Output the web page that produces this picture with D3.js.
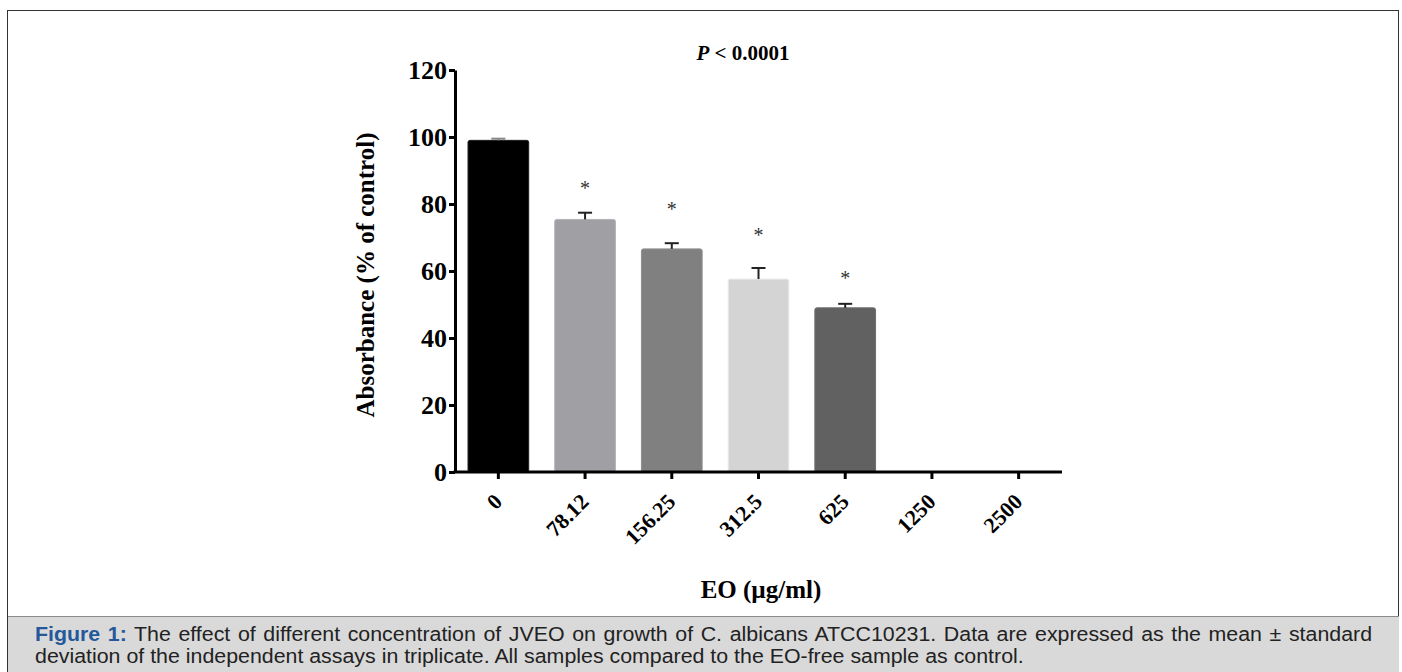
<!DOCTYPE html>
<html lang="en">
<head>
    <meta charset="UTF-8">
    <script src="https://d3js.org/d3.v7.min.js"></script>
    <title>Figure 1</title>
    <style>
        body { margin: 0; background: #fff; }
        #frame {
            position: absolute;
            left: 7px; top: 10px;
            width: 1392px; height: 680px;
            border: 1px solid #333;
            box-sizing: border-box;
        }
        #caption {
            position: absolute;
            left: 8px; top: 616px;
            width: 1391px; height: 60px;
            background: #d9d9d9;
            border-top: 1px solid #8a8a8a;
            box-sizing: border-box;
            padding: 6px 0 0 27px;
            font-family: "Liberation Sans", Arial, sans-serif;
            font-size: 19.5px;
            line-height: 22px;
            color: #222;
        }
        #caption .inner {
            width: 1221px;
            transform: scaleX(1.095);
            transform-origin: left top;
        }
        #caption .l1 { text-align: justify; text-align-last: justify; white-space: nowrap; }
        #caption b { color: #24589a; }
        svg { position: absolute; left: 0; top: 0; }
    </style>
</head>
<body>
    <div id="frame"></div>
    <svg id="chart" width="1402" height="616"></svg>
    <div id="caption">
        <div class="inner">
            <div class="l1"><b>Figure 1:</b> The effect of different concentration of JVEO on growth of C. albicans ATCC10231. Data are expressed as the mean ± standard</div>
            <div>deviation of the independent assays in triplicate. All samples compared to the EO-free sample as control.</div>
        </div>
    </div>

    <script>
        // concentrations (µg/ml)
        const categories = ["0", "78.12", "156.25", "312.5", "625", "1250", "2500"];
        // mean absorbance, % of control
        const means = [99.0, 75.4, 66.6, 57.6, 49.0, 0, 0];
        // standard deviation
        const sds = [0.5, 2.0, 1.7, 3.3, 1.2, 0, 0];
        // where the significance stars sit
        const starValues = [null, 85.8, 79.4, 71.6, 58.8, null, null];
        const barColors = ["#000000", "#a0a0a4", "#808080", "#d4d4d4", "#616161", "#616161", "#616161"];
        const yTicks = [0, 20, 40, 60, 80, 100, 120];

        const svg = d3.select("#chart");
        const x0 = 455, x1 = 1062, yTop = 70, yBottom = 472;

        const x = d3.scaleBand()
            .domain(categories)
            .range([x0, x1])
            .paddingInner(0.3)
            .paddingOuter(0.15);

        const y = d3.scaleLinear()
            .domain([0, 120])
            .range([yBottom, yTop]);

        const serif = "'Liberation Serif', 'Times New Roman', serif";

        // bars
        svg.selectAll("rect.bar")
            .data(categories)
            .enter()
            .append("rect")
            .attr("class", "bar")
            .attr("x", d => x(d))
            .attr("y", (d, i) => y(means[i]))
            .attr("width", x.bandwidth())
            .attr("height", (d, i) => yBottom - y(means[i]))
            .attr("rx", 2)
            .attr("fill", (d, i) => barColors[i])
            .attr("stroke", (d, i) => i === 0 ? "#222" : d3.color(barColors[i]).brighter(0.3))
            .attr("stroke-width", 1)
            .style("display", (d, i) => means[i] > 0 ? null : "none");

        // error bars (upper half only)
        const err = svg.selectAll("g.err")
            .data(categories.filter((d, i) => means[i] > 0))
            .enter()
            .append("g")
            .attr("stroke", (d, i) => i === 0 ? "#888" : "#222")
            .attr("stroke-width", 2);
        err.append("line")
            .attr("x1", d => x(d) + x.bandwidth() / 2)
            .attr("x2", d => x(d) + x.bandwidth() / 2)
            .attr("y1", d => y(means[categories.indexOf(d)]))
            .attr("y2", d => { const i = categories.indexOf(d); return y(means[i] + sds[i]); });
        err.append("line")
            .attr("x1", d => x(d) + x.bandwidth() / 2 - 7)
            .attr("x2", d => x(d) + x.bandwidth() / 2 + 7)
            .attr("y1", d => { const i = categories.indexOf(d); return y(means[i] + sds[i]); })
            .attr("y2", d => { const i = categories.indexOf(d); return y(means[i] + sds[i]); });

        // significance stars
        svg.selectAll("text.star")
            .data(categories.filter((d, i) => starValues[i] !== null))
            .enter()
            .append("text")
            .attr("x", d => x(d) + x.bandwidth() / 2)
            .attr("y", d => y(starValues[categories.indexOf(d)]) + 10)
            .attr("text-anchor", "middle")
            .style("font-family", serif)
            .style("font-size", "20px")
            .attr("fill", "#333")
            .text("*");

        // y axis
        const yAxis = svg.append("g")
            .attr("transform", `translate(${x0},0)`)
            .call(d3.axisLeft(y).tickValues(yTicks).tickSize(6).tickPadding(2).tickSizeOuter(0));
        yAxis.select(".domain").attr("stroke", "#000").attr("stroke-width", 3);
        yAxis.selectAll(".tick line").attr("stroke", "#000").attr("stroke-width", 3);
        yAxis.selectAll(".tick text")
            .style("font-family", serif)
            .style("font-size", "26px")
            .style("font-weight", "bold")
            .attr("fill", "#000");

        // x axis
        const xAxis = svg.append("g")
            .attr("transform", `translate(0,${yBottom})`)
            .call(d3.axisBottom(x).tickSize(7).tickSizeOuter(0));
        xAxis.select(".domain").attr("stroke", "#000").attr("stroke-width", 3)
            .attr("d", `M${x0 - 1.5},0H${x1}`);
        xAxis.selectAll(".tick line").attr("stroke", "#000").attr("stroke-width", 3);
        xAxis.selectAll(".tick text")
            .style("font-family", serif)
            .style("font-size", "22px")
            .style("font-weight", "bold")
            .attr("fill", "#000")
            .attr("text-anchor", "end")
            .attr("dy", 0)
            .attr("transform", "translate(-2,24) rotate(-45)");

        // axis titles
        svg.append("text")
            .attr("transform", `translate(374,${(yTop + yBottom) / 2 + 4}) rotate(-90)`)
            .attr("text-anchor", "middle")
            .style("font-family", serif)
            .style("font-size", "25px")
            .style("font-weight", "bold")
            .text("Absorbance (% of control)");

        svg.append("text")
            .attr("x", 761)
            .attr("y", 598)
            .attr("text-anchor", "middle")
            .style("font-family", serif)
            .style("font-size", "25px")
            .style("font-weight", "bold")
            .text("EO (µg/ml)");

        const pText = svg.append("text")
            .attr("x", 743)
            .attr("y", 60)
            .attr("text-anchor", "middle")
            .style("font-family", serif)
            .style("font-size", "21px")
            .style("font-weight", "bold");
        pText.append("tspan").style("font-style", "italic").text("P");
        pText.append("tspan").text(" < 0.0001");
    </script>
</body>
</html>
